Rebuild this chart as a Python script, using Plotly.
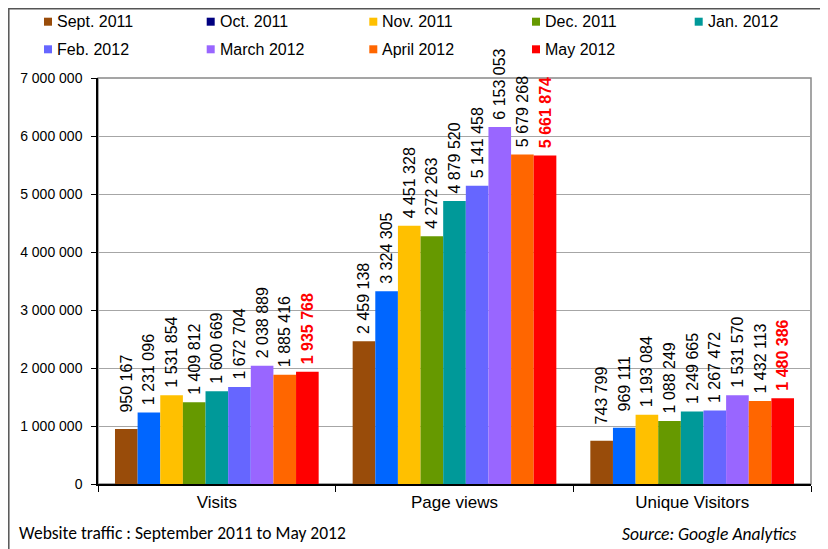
import plotly.graph_objects as go

# ---- data ----
categories = ["Visits", "Page views", "Unique Visitors"]
months = ["Sept. 2011", "Oct. 2011", "Nov. 2011", "Dec. 2011", "Jan. 2012",
          "Feb. 2012", "March 2012", "April 2012", "May 2012"]
sept_2011 = [950167, 2459138, 743799]
oct_2011 = [1231096, 3324305, 969111]
nov_2011 = [1531854, 4451328, 1193084]
dec_2011 = [1409812, 4272263, 1088249]
jan_2012 = [1600669, 4879520, 1249665]
feb_2012 = [1672704, 5141458, 1267472]
march_2012 = [2038889, 6153053, 1531570]
april_2012 = [1885416, 5679268, 1432113]
may_2012 = [1935768, 5661874, 1480386]
series = [sept_2011, oct_2011, nov_2011, dec_2011, jan_2012,
          feb_2012, march_2012, april_2012, may_2012]
y_ticks = [0, 1000000, 2000000, 3000000, 4000000, 5000000, 6000000, 7000000]

# ---- style ----
bar_colors = ["#994C0A", "#0066FF", "#FFC000", "#669900", "#009999",
              "#6666FF", "#9966FF", "#FF6600", "#FF0000"]
legend_colors = ["#994C0A", "#000080", "#FFC000", "#669900", "#009999",
                 "#6666FF", "#9966FF", "#FF6600", "#FF0000"]

OFF = 8                      # page body margin in the browser
W, H = 828 - OFF, 549 - OFF
L, R, T, B = 98, 811, 78, 484   # plot area in window pixels
PW, PH = R - L, B - T


def px(x):
    return (x - L) / PW


def py(y):
    return (B - y) / PH


def fmt(v):
    s = f"{v:,}".replace(",", " ")
    pad = "\u00a0" * (3 if v < 1000000 else 1)
    return pad + s


fig = go.Figure()
for i, (name, vals) in enumerate(zip(months, series)):
    last = i == len(series) - 1
    fig.add_trace(go.Bar(
        name=name, x=categories, y=vals,
        marker=dict(color=bar_colors[i], line=dict(width=0)),
        text=[fmt(v) for v in vals],
        textposition="outside", textangle=-90,
        constraintext="none", cliponaxis=False,
        textfont=dict(family="Liberation Sans, Arial", size=16,
                      color="#FF0000" if last else "#000000",
                      weight="bold" if last else "normal"),
        showlegend=False, hoverinfo="skip",
    ))

fig.update_layout(
    width=W, height=H,
    margin=dict(l=L - OFF, r=828 - R, t=T - OFF, b=549 - B, pad=0),
    barmode="group", bargap=0.143, bargroupgap=0,
    plot_bgcolor="white", paper_bgcolor="white",
    font=dict(family="Liberation Sans, Arial", size=14, color="#000000"),
    separators=". ",
    xaxis=dict(showgrid=False, showline=True, linecolor="#000000", linewidth=1.5,
               ticks="outside", tickson="boundaries", ticklen=6, tickcolor="#000000",
               tickfont=dict(size=17), ticklabelstandoff=2),
    yaxis=dict(range=[0, 7000000], tickvals=y_ticks, tickformat=",d",
               showgrid=True, gridcolor="#A6A6A6", gridwidth=1,
               showline=True, linecolor="#000000", linewidth=1.5,
               ticks="outside", ticklen=5, tickcolor="#000000",
               tickfont=dict(size=14), zeroline=False, ticklabelstandoff=6),
)

shapes = []
# plot-area border (top/right gray)
shapes.append(dict(type="rect", xref="paper", yref="paper", x0=0, x1=1, y0=0, y1=1,
                   line=dict(color="#888888", width=1.5), layer="below"))
# outer chart border
shapes.append(dict(type="rect", xref="paper", yref="paper",
                   x0=px(OFF + 0.8), x1=px(824), y0=py(560), y1=py(OFF + 0.8),
                   line=dict(color="#555555", width=1.5), layer="below"))

annotations = []
col_x = [44, 206.7, 369.3, 532, 694.7]
row_y = [21.7, 49.3]
for i, name in enumerate(months):
    r, c = divmod(i, 5)
    mx, my = col_x[c], row_y[r]
    shapes.append(dict(type="rect", xref="paper", yref="paper",
                       x0=px(mx), x1=px(mx + 8), y0=py(my + 4), y1=py(my - 4),
                       fillcolor=legend_colors[i], line=dict(width=0)))
    annotations.append(dict(xref="paper", yref="paper", x=px(mx + 11), y=py(my),
                            xanchor="left", yanchor="middle", showarrow=False,
                            text=name, font=dict(size=16, color="#000000")))

annotations.append(dict(xref="paper", yref="paper", x=px(17), y=py(533),
                        xanchor="left", yanchor="middle", showarrow=False,
                        text="Website traffic : September 2011 to May 2012",
                        font=dict(family="Carlito, Lato, Open Sans", size=17.5, color="#000000")))
annotations.append(dict(xref="paper", yref="paper", x=px(798), y=py(534),
                        xanchor="right", yanchor="middle", showarrow=False,
                        text="<i>Source: Google Analytics</i>",
                        font=dict(family="Carlito, Lato, Open Sans", size=17.5, color="#000000")))

fig.update_layout(shapes=shapes, annotations=annotations)
fig.write_html("out.html")
